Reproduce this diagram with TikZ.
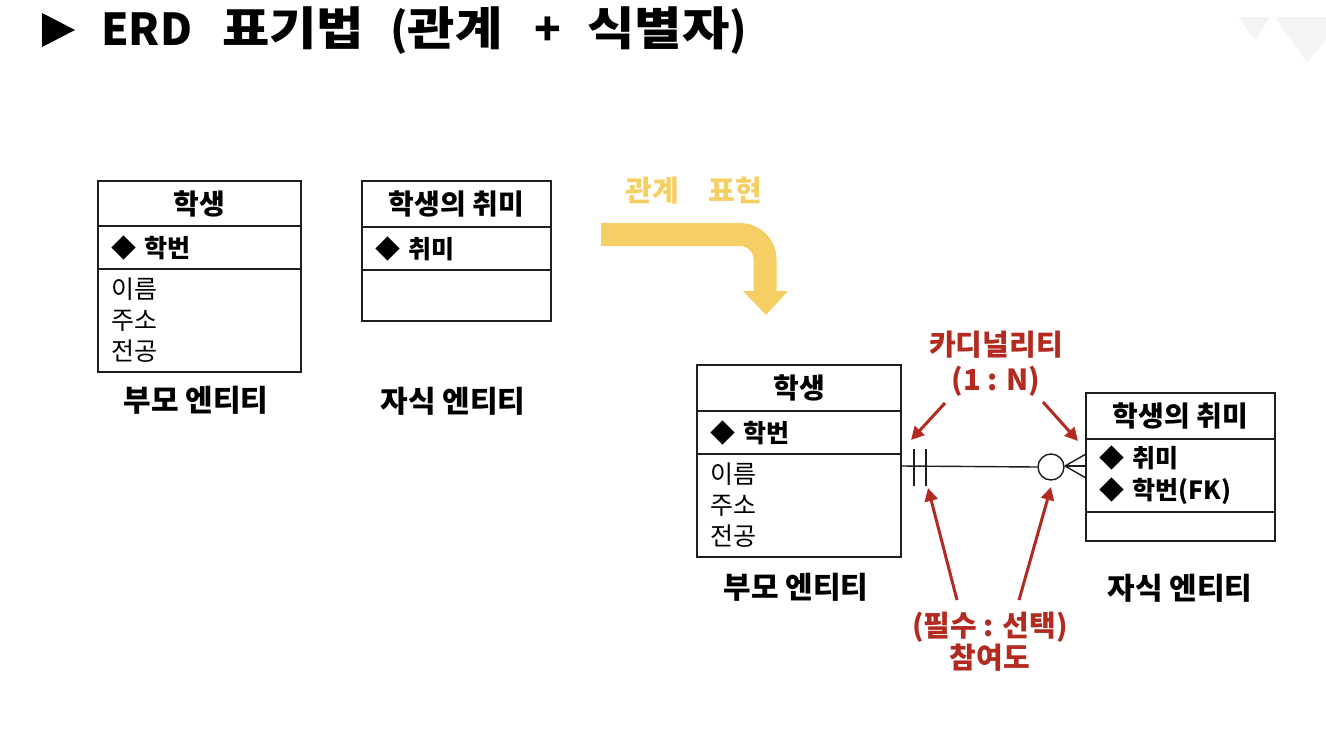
\documentclass[tikz,border=0pt]{standalone}
\usepackage{fontspec}
\usepackage{graphicx}
\setmainfont{Noto Sans CJK KR}
\usetikzlibrary{arrows.meta}
\definecolor{linec}{RGB}{30,30,30}
\definecolor{redc}{RGB}{178,42,32}
\definecolor{yelc}{RGB}{246,207,100}
\definecolor{faint}{RGB}{244,244,244}
\newcommand{\hw}[1]{\scalebox{1.12}[1]{\fontsize{46}{50}\selectfont #1}}
\begin{document}
\begin{tikzpicture}[x=1pt,y=-1pt,
  ent/.style={draw=linec, line width=1.4pt, anchor=north west, inner sep=0pt, outer sep=0pt, text=black},
  hdr/.style={ent, font=\bfseries\fontsize{28}{30}\selectfont, align=center},
  keyrow/.style={ent, inner xsep=13pt, align=left, font=\bfseries\fontsize{25}{32}\selectfont},
  attrow/.style={ent, inner xsep=13pt, align=left, font=\fontsize{25}{31}\selectfont},
  lbl/.style={font=\bfseries\fontsize{30}{32}\selectfont, inner sep=0pt},
  redlbl/.style={font=\bfseries\fontsize{29}{31}\selectfont, text=redc, inner sep=0pt},
  conn/.style={draw=linec, line width=1.4pt},
  redarrow/.style={draw=redc, line width=3pt, -{Triangle[length=13pt,width=13pt]}}
]
\useasboundingbox (0,0) rectangle (1326,734);
\fill[white] (0,0) rectangle (1326,734);
% faint corner marks
\fill[faint] (1238,17) -- (1270,17) -- (1255,40) -- cycle;
\fill[faint] (1275,17) -- (1326,17) -- (1326,40) -- (1307,62) -- cycle;
% title
\fill[black] (42,13) -- (75,30) -- (42,47) -- cycle;
\node[anchor=base west, inner sep=0pt, font=\bfseries\fontsize{44}{50}\selectfont] (title) at (101,45)
  {ERD\hspace{30pt}\hw{표기법}\hspace{26pt}(\hw{관계}\hspace{32pt}+\hspace{26pt}\hw{식별자})};

% left parent entity
\node[hdr, minimum width=203pt, minimum height=45pt] (p1h) at (98,181) {학생};
\node[keyrow, text width=177pt, minimum height=43pt] (p1k) at (98,226) {◆ 학번};
\node[attrow, text width=177pt, minimum height=103pt] (p1a) at (98,269) {이름\\주소\\전공};
\node[lbl] (p1l) at (196,400) {부모 엔티티};

% left child entity
\node[hdr, minimum width=189pt, minimum height=46pt] (c1h) at (362,181) {학생의 취미};
\node[keyrow, text width=163pt, minimum height=43pt] (c1k) at (362,227) {◆ 취미};
\node[ent, minimum width=189pt, minimum height=51pt] (c1a) at (362,270) {};
\node[lbl] (c1l) at (453,401) {자식 엔티티};

% yellow arrow
\node[font=\bfseries\fontsize{29}{31}\selectfont, text=yelc, inner sep=0pt] (rel) at (694,191) {관계\hspace{30pt}표현};
\draw[yelc, line width=23pt, rounded corners=25pt] (601,234.5) -- (765,234.5) -- (765,293);
\fill[yelc] (743,291) -- (788,291) -- (766,315) -- cycle;

% right parent entity
\node[hdr, minimum width=204pt, minimum height=46pt] (p2h) at (697,365) {학생};
\node[keyrow, text width=178pt, minimum height=43pt] (p2k) at (697,411) {◆ 학번};
\node[attrow, text width=178pt, minimum height=103pt] (p2a) at (697,454) {이름\\주소\\전공};
\node[lbl] (p2l) at (796,587) {부모 엔티티};

% right child entity
\node[hdr, minimum width=189pt, minimum height=46pt] (c2h) at (1086,393) {학생의 취미};
\node[keyrow, text width=163pt, minimum height=73pt] (c2k) at (1086,439) {◆ 취미\\◆ 학번(FK)};
\node[ent, minimum width=189pt, minimum height=29pt] (c2a) at (1086,512) {};
\node[lbl] (c2l) at (1180,588) {자식 엔티티};

% relationship
\coordinate (ra) at (901,466);
\coordinate (rb) at (1086,466);
\coordinate (cf) at (1065,466);
\coordinate (cfu) at (1086,454);
\coordinate (cfd) at (1086,478);
\node[draw=linec, line width=1.4pt, circle, minimum size=26pt, inner sep=0pt, fill=white] (oc) at (1051,467) {};
\draw[conn] (ra) -- (oc.west);
\draw[conn] (cf) -- (rb);
\draw[conn] (cf) -- (cfu);
\draw[conn] (cf) -- (cfd);
\draw[conn] (914,449) -- (914,486);
\draw[conn] (926,449) -- (926,486);

% red labels
\node[redlbl] (card1) at (996,345) {카디널리티};
\node[redlbl] (card2) at (996,381) {(1 : N)};
\node[redlbl] (part1) at (990,627) {(필수 : 선택)};
\node[redlbl] (part2) at (990,658) {참여도};

\coordinate (a1s) at (945,403);
\coordinate (a1e) at (911,440);
\coordinate (a2s) at (1043,402);
\coordinate (a2e) at (1078,441);
\coordinate (a3s) at (957,600);
\coordinate (a3e) at (928,488);
\coordinate (a4s) at (1019,600);
\coordinate (a4e) at (1051,487);
\draw[redarrow] (a1s) -- (a1e);
\draw[redarrow] (a2s) -- (a2e);
\draw[redarrow] (a3s) -- (a3e);
\draw[redarrow] (a4s) -- (a4e);
\end{tikzpicture}
\end{document}
